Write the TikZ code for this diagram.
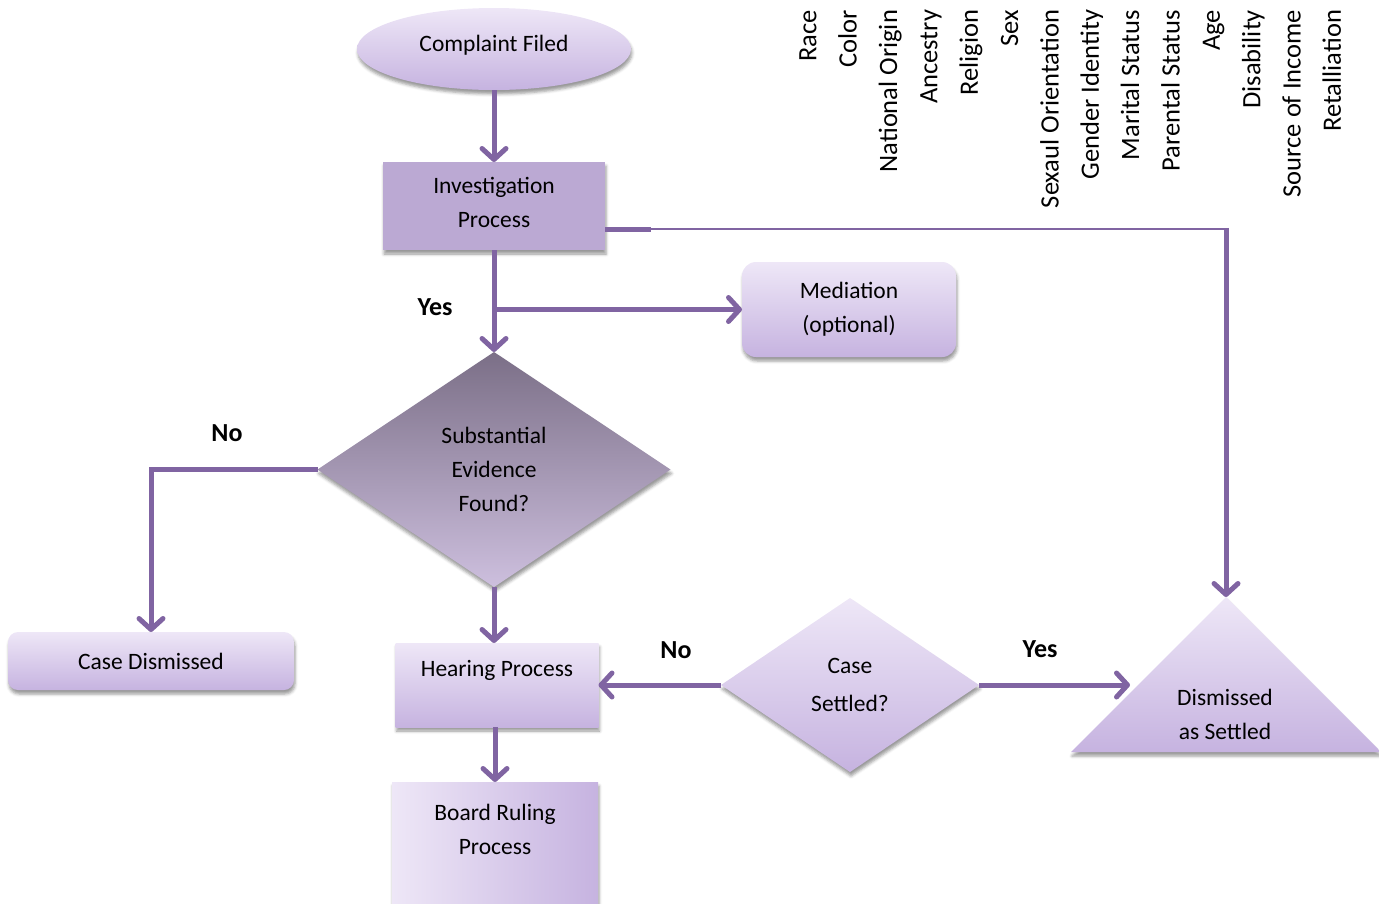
\documentclass[tikz,border=0pt]{standalone}
\usepackage{fontspec}
\setmainfont{Carlito}
\usetikzlibrary{shapes.geometric,arrows.meta,shadows.blur,calc}
\definecolor{arrowc}{HTML}{8064A2}
\definecolor{lt}{HTML}{EEE7F7}
\definecolor{dk}{HTML}{C6B3E0}
\definecolor{invc}{HTML}{BBA9D3}
\definecolor{dmtop}{HTML}{7B6F87}
\definecolor{dmbot}{HTML}{CDBFDE}
\newcommand\fsmain{\fontsize{23.5}{34}\selectfont}
\begin{document}
\begin{tikzpicture}[x=1pt,y=-1pt,
  every node/.style={inner sep=0pt, outer sep=0pt, font=\fsmain, align=center},
  sh/.style={blur shadow={shadow xshift=1pt, shadow yshift=-4pt, shadow blur radius=3pt, shadow opacity=40}},
  grad/.style={top color=lt, bottom color=dk},
  conn/.style={draw=arrowc, line width=5pt, -{Straight Barb[length=11pt,width=24pt,round]}},
  lbl/.style={font=\fontsize{26}{30}\selectfont\bfseries},
  rot/.style={rotate=90, anchor=mid east, font=\fontsize{26.5}{30}\selectfont},
]
\useasboundingbox (0,0) rectangle (1379,903);

% rotated labels
\foreach \t [count=\i from 0] in {Race,Color,National Origin,Ancestry,Religion,Sex,Sexaul Orientation,Gender Identity,Marital Status,Parental Status,Age,Disability,Source of Income,Retalliation}
  \node[rot] (col\i) at (814+40.35*\i,10) {\t};

% nodes
\node[ellipse, grad, sh, minimum width=274, minimum height=82, text depth=11pt] (cf) at (494,49) {Complaint Filed};
\node[rectangle, fill=invc, sh, minimum width=222, minimum height=88, text depth=8pt] (inv) at (494,206) {Investigation\\Process};
\node[rectangle, rounded corners=14pt, grad, sh, minimum width=214, minimum height=95] (med) at (849,309.5) {Mediation\\(optional)};
\node[diamond, top color=dmtop, bottom color=dmbot, sh, minimum width=353, minimum height=235] (sub) at (494,469.5) {Substantial\\Evidence\\Found?};
\node[rectangle, rounded corners=10pt, grad, sh, minimum width=286, minimum height=58] (cd) at (151,661) {Case Dismissed};
\node[rectangle, grad, sh, minimum width=203, minimum height=84] (hp) at (497,685) {Hearing Process\\ \mbox{}};
\node[rectangle, left color=lt, right color=dk, sh, minimum width=206, minimum height=128] (br) at (495,846) {Board Ruling\\Process\\ \mbox{}};
\node[diamond, grad, sh, minimum width=258, minimum height=174, font=\fontsize{23.5}{38}\selectfont] (cs) at (850,685) {Case\\Settled?};

% triangle
\coordinate (ta) at (1226,597);
\coordinate (tl) at (1071,752);
\coordinate (tr) at (1381,752);
\shade[grad, sh] (ta) -- (tl) -- (tr) -- cycle;
\node (dst) at (1225,714) {Dismissed\\as Settled};

% connectors
\draw[conn] (cf.south) -- (inv.north);
\draw[conn] (inv.south) -- (sub.north);
\draw[conn] (inv.south |- med.west) -- (med.west);
\draw[conn] (sub.west) -| (cd.north);
\draw[conn] (sub.south) -- (sub.south |- hp.north);
\draw[conn] (br.north |- hp.south) -- (br.north);
\draw[conn] (cs.west) -- (hp.east);
\coordinate (tin) at (1130,685);
\draw[conn] (cs.east) -- (tin);
\coordinate (ist) at ($(inv.south east)+(0,-21)$);
\coordinate (isb) at ($(ist)+(46,0)$);
\draw[draw=arrowc, line width=5pt] (ist) -- (isb);
\draw[draw=arrowc, line width=2.5pt] (isb) -- (isb -| ta);
\draw[conn] ($(isb -| ta)+(0,-1.25)$) -- (ta);

% labels
\node[lbl] (y1) at (435,307) {Yes};
\node[lbl] (n1) at (227,433) {No};
\node[lbl] (n2) at (676,650) {No};
\node[lbl] (y2) at (1040,649) {Yes};
\end{tikzpicture}
\end{document}
